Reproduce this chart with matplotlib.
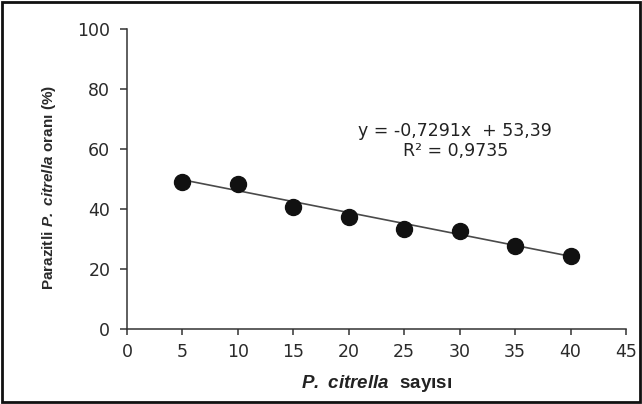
import numpy as np
import matplotlib
matplotlib.use('Agg')
import matplotlib.pyplot as plt
from matplotlib.patches import Rectangle

plt.rcParams['font.family'] = ['DejaVu Sans']
# axis titles are written in mathtext, drawn in bold Liberation Sans
plt.rcParams['mathtext.fontset'] = 'custom'
plt.rcParams['mathtext.rm'] = 'Liberation Sans:bold'
plt.rcParams['mathtext.it'] = 'Liberation Sans:bold:italic'
plt.rcParams['mathtext.bf'] = 'Liberation Sans:bold:italic'

# data
counts = [5, 10, 15, 20, 25, 30, 35, 40]
parasitized = [49.1, 48.4, 40.8, 37.3, 33.3, 32.7, 27.8, 24.3]
slope = -0.7291
intercept = 53.39
r2 = 0.9735

fig = plt.figure(figsize=(6.42, 4.04), dpi=100)
ax = fig.add_axes([127 / 642, 1 - 329 / 404, (626 - 127) / 642, 300 / 404])

# trend line
xs = np.array([counts[0], counts[-1]])
ax.plot(xs, slope * xs + intercept, color='#4a4a4a', lw=1.2, zorder=2)
ax.plot(counts, parasitized, 'o', color='#111111', ms=11.5, zorder=3)

ax.set_xlim(0, 45)
ax.set_ylim(0, 100)
ax.set_xticks(range(0, 46, 5))
ax.set_yticks(range(0, 101, 20))
for s in ['top', 'right']:
    ax.spines[s].set_visible(False)
for s in ['left', 'bottom']:
    ax.spines[s].set_color('#333333')
    ax.spines[s].set_linewidth(1.1)
ax.tick_params(axis='y', direction='out', length=5, width=1.1, color='#333333',
               labelsize=12.5, labelcolor='#2a2a2a', pad=7)
ax.tick_params(axis='x', direction='out', length=4, width=1.1, color='#333333',
               labelsize=12.5, labelcolor='#2a2a2a', pad=6)

ax.set_xlabel(r'$\mathbf{P.\ citrella}\ \ \mathrm{sayısı}$', fontsize=13.5,
              color='#222222', labelpad=9)
ax.set_ylabel(r'$\mathrm{Parazitli}\ \mathbf{P.\ citrella}\ \mathrm{oranı\ (\%)}$',
              fontsize=11, color='#2a2a2a')
ax.yaxis.set_label_coords(-0.138, 0.472)

ax.text(29.6, 62.7, 'y = -0,7291x  + 53,39\nR² = 0,9735', ha='center',
        va='center', fontsize=12.5, color='#222222', linespacing=1.1)

fig.patches.append(Rectangle((0.003, 0.004), 0.994, 0.99, transform=fig.transFigure,
                             fill=False, ec='#111111', lw=2))

fig.savefig('out.png', dpi=100)
